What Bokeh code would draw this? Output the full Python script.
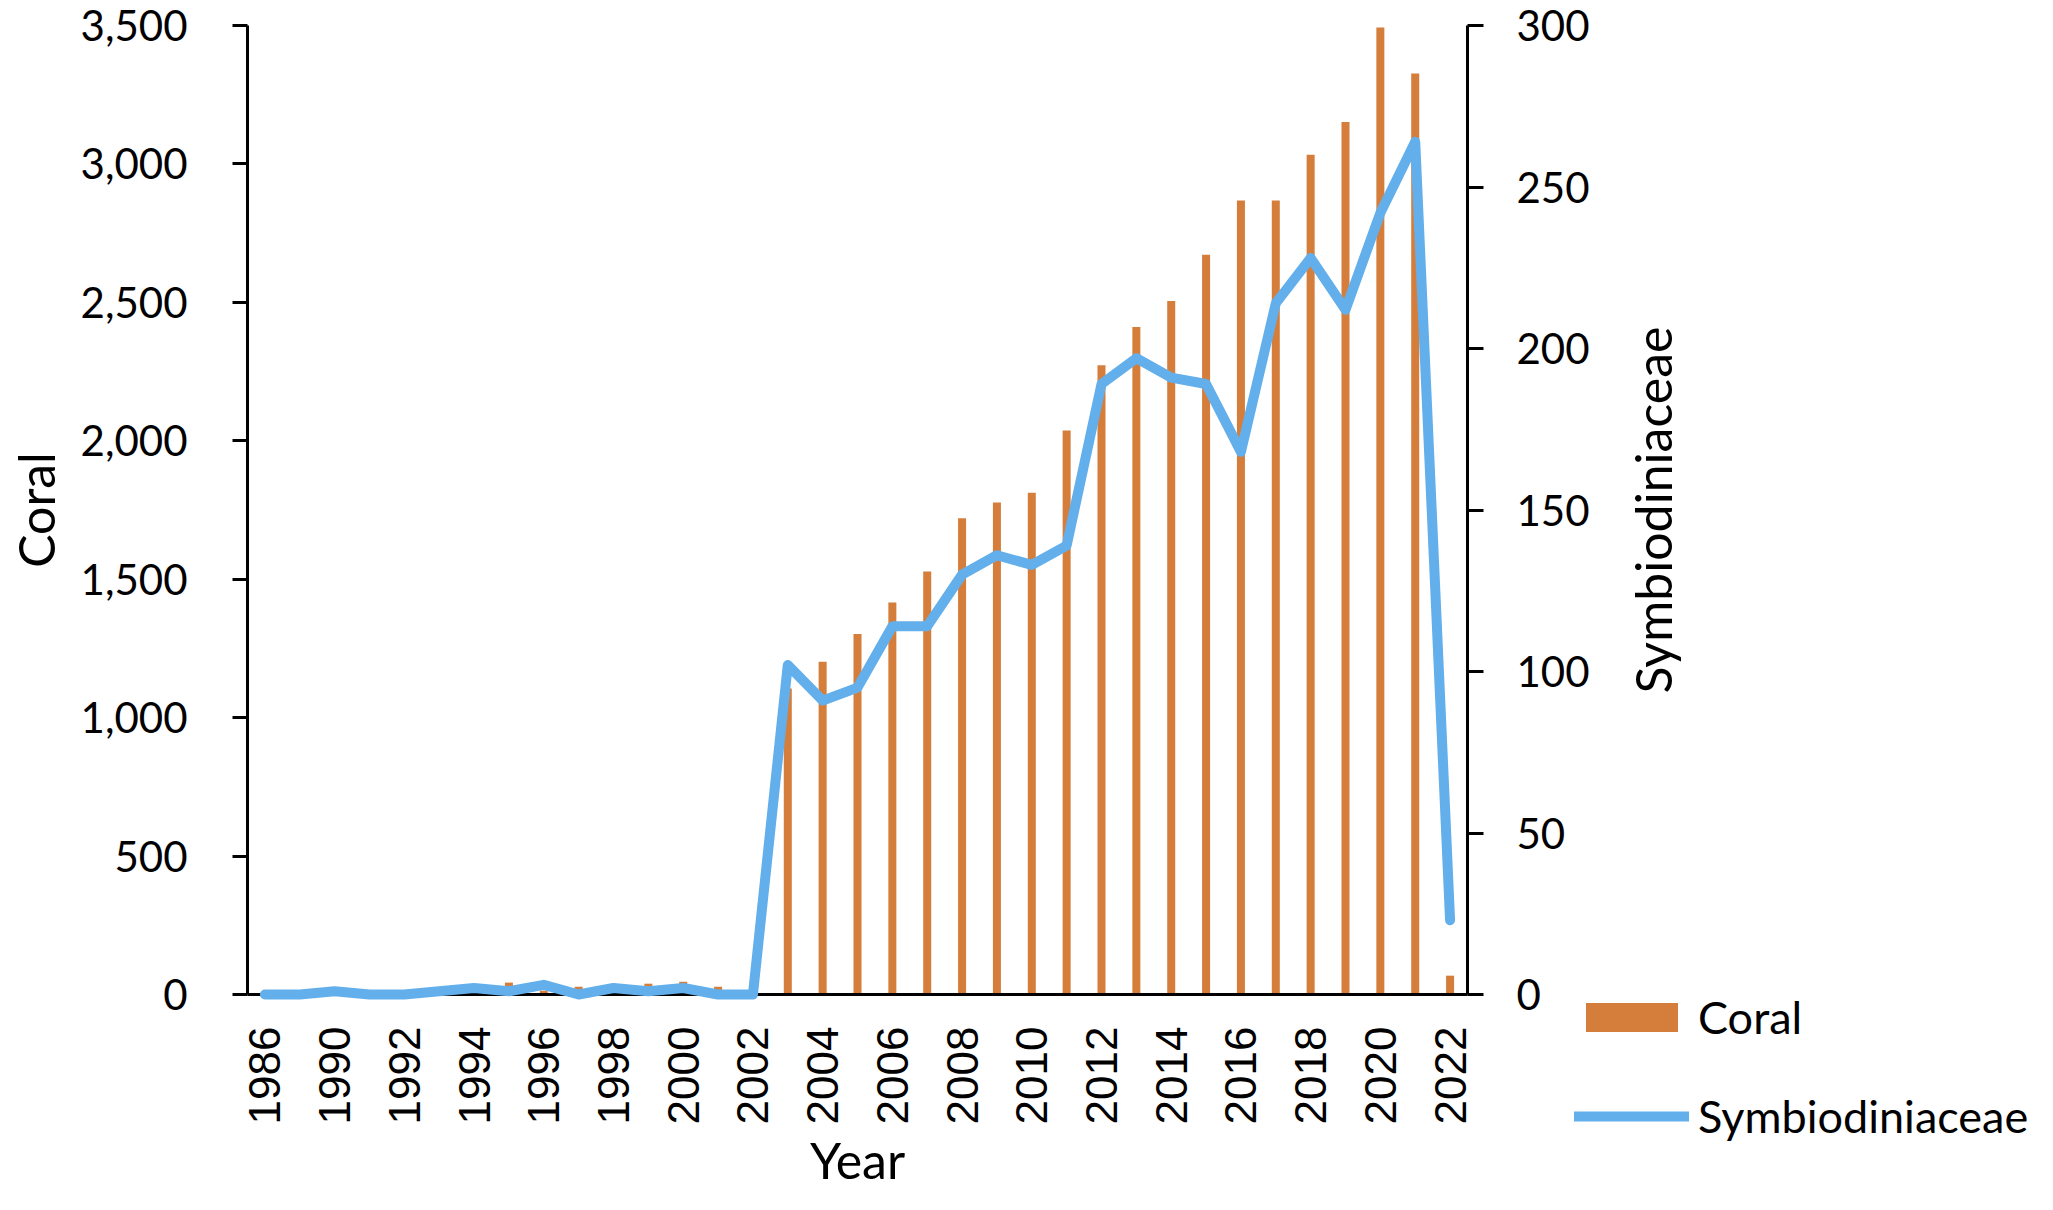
import math
from bokeh.plotting import figure
from bokeh.models import (Range1d, LinearAxis, FixedTicker, NumeralTickFormatter,
                          Legend, LegendItem, ColumnDataSource, Label)
from bokeh.embed import file_html
from bokeh.resources import INLINE

# ---- data ----
years = ["1986", "1989", "1990", "1991", "1992", "1993", "1994", "1995", "1996",
         "1997", "1998", "1999", "2000", "2001", "2002", "2003", "2004", "2005",
         "2006", "2007", "2008", "2009", "2010", "2011", "2012", "2013", "2014",
         "2015", "2016", "2017", "2018", "2019", "2020", "2021", "2022"]
coral = [2, 1, 3, 2, 3, 6, 12, 43, 14, 28, 15, 39, 46, 28, 0,
         1105, 1202, 1302, 1416, 1528, 1720, 1777, 1812, 2037, 2273, 2411, 2505,
         2672, 2868, 2868, 3033, 3151, 3493, 3327, 68]
symbiodiniaceae = [0, 0, 1, 0, 0, 1, 2, 1, 3, 0, 2, 1, 2, 0, 0,
                   102, 91, 95, 114, 114, 130, 136, 133, 139, 189, 197, 191,
                   189, 168, 214, 228, 212, 242, 264, 23]
coral_ticks = [0, 500, 1000, 1500, 2000, 2500, 3000, 3500]
symb_ticks = [0, 50, 100, 150, 200, 250, 300]
series_names = ["Coral", "Symbiodiniaceae"]

BAR_COLOR = "#D57E3C"
LINE_COLOR = "#63AFEB"
CAL = "Lato"

idx = list(range(len(years)))
src = ColumnDataSource(dict(x=idx, year=years, coral=coral, symb=symbiodiniaceae))

# ---- layout geometry (canvas pixels) ----
W, H = 2037, 1194
AX_L, AX_R = 247, 1467      # left / right axis lines
AX_T, AX_B = 25, 994        # top of value axes / baseline

x_lo, x_hi = -0.5, len(years) - 0.5
kx = (x_hi - x_lo) / (AX_R - AX_L)
c_lo, c_hi = coral_ticks[0], coral_ticks[-1]
s_lo, s_hi = symb_ticks[0], symb_ticks[-1]
kc = (c_hi - c_lo) / (AX_B - AX_T)
ks = (s_hi - s_lo) / (AX_B - AX_T)

p = figure(width=W, height=H, output_backend="svg", toolbar_location=None, title=None,
           x_range=Range1d(x_lo - AX_L * kx, x_hi + (W - AX_R) * kx),
           y_range=Range1d(c_lo - (H - AX_B) * kc, c_hi + AX_T * kc),
           min_border=0, min_border_left=0, min_border_right=0,
           min_border_top=0, min_border_bottom=0)
p.extra_y_ranges = {"symb": Range1d(s_lo - (H - AX_B) * ks, s_hi + AX_T * ks)}
p.xgrid.visible = False
p.ygrid.visible = False
p.outline_line_color = None
p.background_fill_color = "white"
p.border_fill_color = "white"

bar_style = dict(width=0.23, fill_color=BAR_COLOR, line_color=None)
line_style = dict(line_width=10, line_color=LINE_COLOR, line_cap="round", line_join="round")

bars = p.vbar(x="x", top="coral", source=src, **bar_style)
line = p.line(x="x", y="symb", source=src, y_range_name="symb", **line_style)
line.level = "overlay"

# x axis
xa = p.xaxis[0]
xa.fixed_location = c_lo
xa.bounds = (x_lo, x_hi)
xa.ticker = FixedTicker(ticks=idx[::2])
xa.major_label_overrides = {i: years[i] for i in idx}
xa.major_label_orientation = math.pi / 2
xa.major_tick_out = 0
xa.major_tick_in = 0
xa.minor_tick_out = 0
xa.minor_tick_in = 0
xa.axis_line_width = 3
xa.axis_line_color = "black"
xa.major_label_text_font = "Liberation Sans"
xa.major_label_text_font_size = "44px"
xa.major_label_text_color = "black"
xa.major_label_standoff = 32
xa.axis_label = "Year"
xa.axis_label_text_font = CAL
xa.axis_label_text_font_size = "50px"
xa.axis_label_text_font_style = "normal"
xa.axis_label_text_color = "black"
xa.axis_label_standoff = 3

# left axis
ya = p.yaxis[0]
ya.fixed_location = x_lo
ya.bounds = (c_lo, c_hi)
ya.ticker = FixedTicker(ticks=coral_ticks)
ya.formatter = NumeralTickFormatter(format="0,0")
ya.major_tick_out = 15
ya.major_tick_in = 0
ya.minor_tick_out = 0
ya.minor_tick_in = 0
ya.major_tick_line_width = 3
ya.axis_line_width = 3
ya.axis_line_color = "black"
ya.major_label_text_font = CAL
ya.major_label_text_font_size = "42px"
ya.major_label_text_color = "black"
ya.major_label_standoff = 45
ya.axis_label = "Coral"
ya.axis_label_text_font = CAL
ya.axis_label_text_font_size = "50px"
ya.axis_label_text_font_style = "normal"
ya.axis_label_text_color = "black"
ya.axis_label_standoff = 12

# right axis
ra = LinearAxis(y_range_name="symb", fixed_location=x_hi, bounds=(s_lo, s_hi),
                ticker=FixedTicker(ticks=symb_ticks))
ra.major_tick_out = 16
ra.major_tick_in = 0
ra.minor_tick_out = 0
ra.minor_tick_in = 0
ra.major_tick_line_width = 3
ra.axis_line_width = 3
ra.axis_line_color = "black"
ra.major_label_text_font = CAL
ra.major_label_text_font_size = "42px"
ra.major_label_text_color = "black"
ra.major_label_standoff = 33
p.add_layout(ra, "right")

# right-axis title (reads bottom to top, centred on the axis)
p.add_layout(Label(x=1652, y=H - (AX_T + AX_B) / 2.0, x_units="screen", y_units="screen",
                   text=series_names[1], angle=math.pi / 2,
                   text_align="center", text_baseline="middle",
                   text_font=CAL, text_font_size="50px", text_color="black"))

legend = Legend(items=[LegendItem(label=series_names[0], renderers=[bars]),
                       LegendItem(label=series_names[1], renderers=[line])],
                location=(1574, 51), orientation="vertical",
                padding=0, margin=0, spacing=45,
                glyph_width=115, glyph_height=36, label_standoff=9,
                label_height=30,
                label_text_font=CAL, label_text_font_size="45px",
                label_text_color="black",
                border_line_color=None, background_fill_alpha=0)
p.add_layout(legend, "center")

open("out.html", "w").write(file_html(p, INLINE, title="Coral and Symbiodiniaceae"))
